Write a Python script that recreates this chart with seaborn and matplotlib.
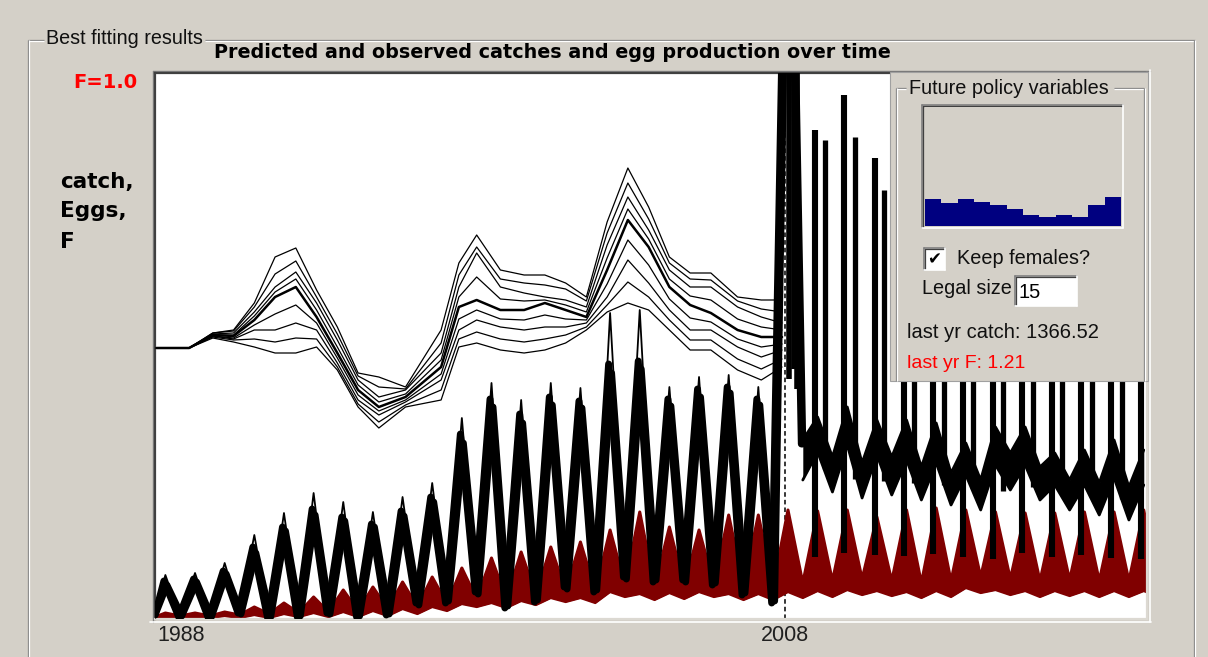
"""
Best fitting results screen: predicted and observed catches, egg production
and fishing mortality over time, with the future policy side panel.
"""

import numpy as np
import pandas as pd
import matplotlib
matplotlib.use("Agg")
import matplotlib.pyplot as plt
import matplotlib.transforms as mtransforms
from matplotlib.patches import Rectangle
import seaborn as sns

W, H = 1208, 657
GUI_GREY = "#d4d0c8"
EGG_RED = "#800000"
NAVY = "#000080"
GUI_FONT = "Liberation Sans"

# ---------------------------------------------------------------------------
# Data (relative units on a shared axis, 0 = floor of the plot)
# ---------------------------------------------------------------------------

# Catch before 2008, two overlapping runs: one peak and one trough per year
CATCH_YEARS = np.arange(1987, 2008)
CATCH_TIP = [44, 46, 56, 84, 106, 126, 117, 107, 122, 136, 201,
             236, 219, 236, 231, 306, 309, 232, 242, 244, 232]
CATCH_PEAK = [38, 40, 48, 72, 92, 110, 102, 95, 108, 122, 185,
              220, 205, 222, 218, 255, 258, 220, 230, 232, 220]
CATCH_PEAK2 = [34, 37, 45, 66, 88, 104, 98, 92, 103, 117, 176,
               212, 196, 214, 211, 246, 250, 213, 222, 226, 214]
CATCH_TROUGH = [2, 1, 6, 1, 2, 6, 2, 4, 16, 16, 27,
                11, 17, 32, 27, 42, 37, 39, 34, 24, 16]
CATCH_TROUGH2 = [3, 2, 5, 2, 3, 5, 3, 5, 14, 18, 25,
                 13, 19, 30, 29, 40, 39, 37, 36, 26, 18]
CATCH_START = 4
SPIKE_2008 = 900          # runs far off the top of the plot
SPIKE_2008_END = 175

# Catch projections after 2008: band of runs, trough (yr + 0.6), peak (yr + 1.1)
PROJ_YEARS = np.arange(2008, 2020)
PROJ_TOP_TROUGH = [179, 162, 156, 162, 152, 146, 139, 166, 152, 139, 136, 132]
PROJ_TOP_PEAK = [202, 212, 199, 199, 196, 176, 192, 192, 166, 169, 179, 169]
PROJ_BOT_TROUGH = [139, 127, 121, 124, 119, 114, 109, 129, 119, 109, 104, 99]
PROJ_BOT_PEAK = [167, 174, 164, 159, 156, 144, 154, 154, 134, 134, 141, 134]

# Projection spikes (narrow catch pulses)
SPIKE_A_T = [2009.02, 2010.0, 2011.04, 2012.0, 2013.0, 2014.0,
             2015.0, 2016.0, 2017.0, 2018.0, 2019.0, 2020.0]
SPIKE_A_LO = [62, 66, 64, 63, 65, 62, 60, 66, 62, 64, 61, 60]
SPIKE_A_HI = [489, 524, 461, 369, 349, 329, 319, 309, 299, 289, 279, 269]
SPIKE_B_T = [2009.35, 2010.36, 2011.34, 2012.35, 2013.35, 2014.35,
             2015.35, 2016.35, 2017.35, 2018.35, 2019.35]
SPIKE_B_LO = [150, 140, 138, 136, 134, 130, 128, 132, 126, 122, 120]
SPIKE_B_HI = [479, 482, 429, 319, 309, 299, 289, 279, 269, 259, 249]
COLUMN_2008_T = [2008.15, 2008.3, 2008.42]
COLUMN_2008_LO = [240, 250, 230]
COLUMN_2008_HI = [600, 600, 600]

# Egg production: upper and lower edge of the band, peak (yr + 0.1), trough (yr + 0.6)
EGG_YEARS = np.arange(1987, 2021)
EGG_TOP_PEAK = [6, 6, 7, 12, 16, 22, 29, 32, 37, 42, 51, 61, 67, 72, 77, 89, 107,
                92, 89, 104, 104, 109, 108, 109, 102, 109, 111, 109, 107, 106,
                106, 107, 107, 109]
EGG_TOP_TROUGH = [3, 3, 4, 5, 6, 7, 8, 10, 12, 15, 20, 20, 24, 28, 28, 34, 32,
                  33, 35, 33, 33, 36, 38, 40, 38, 36, 38, 42, 40, 38, 39, 38, 38, 38]
EGG_BOT_PEAK = [2, 2, 3, 4, 5, 6, 7, 8, 10, 12, 15, 16, 18, 21, 21, 27, 25,
                26, 27, 25, 25, 27, 28, 29, 28, 27, 28, 31, 29, 28, 28, 28, 28, 28]
EGG_BOT_TROUGH = [1, 1, 1, 1, 2, 2, 2, 3, 5, 8, 12, 11, 14, 17, 16, 22, 19, 20,
                  22, 19, 19, 21, 22, 24, 23, 21, 22, 26, 24, 22, 23, 22, 22, 22]

# Fishing mortality runs
F_YEARS = [1986.8, 1987.9, 1988.7, 1989.4, 1990.1, 1990.8, 1991.5, 1992.2,
           1992.9, 1993.6, 1994.3, 1995.2, 1996.4, 1997.0, 1997.6, 1998.4,
           1999.2, 1999.9, 2000.6, 2001.3, 2002.0, 2002.7, 2003.4, 2004.1,
           2004.8, 2005.5, 2006.4, 2007.2, 2007.9]
F_RUNS = {
    "top": [271, 271, 286, 289, 316, 362, 371, 329, 292, 246, 242, 232, 289, 356,
            384, 349, 344, 344, 336, 322, 397, 451, 412, 362, 346, 346, 322, 319, 319],
    "upper2": [271, 271, 286, 288, 312, 345, 358, 322, 285, 243, 232, 230, 276, 344,
               372, 340, 336, 334, 330, 318, 386, 436, 400, 356, 340, 339, 318, 310, 307],
    "upper": [271, 271, 285, 286, 307, 332, 347, 316, 279, 239, 222, 229, 266, 332,
              366, 332, 326, 322, 319, 312, 374, 422, 389, 349, 332, 332, 312, 302, 296],
    "mu": [271, 271, 284, 284, 303, 327, 340, 309, 272, 234, 217, 225, 259, 322,
           342, 320, 318, 319, 314, 307, 361, 410, 380, 340, 323, 319, 300, 292, 289],
    "mid": [271, 271, 284, 283, 299, 322, 332, 302, 266, 229, 212, 222, 252, 312,
            319, 309, 309, 316, 309, 302, 349, 399, 372, 332, 314, 306, 289, 282, 282],
    "ml": [271, 271, 283, 281, 294, 305, 314, 296, 261, 224, 208, 219, 245, 300,
           309, 300, 299, 304, 300, 299, 335, 379, 354, 320, 301, 297, 280, 272, 275],
    "lower": [271, 271, 283, 280, 289, 289, 296, 289, 256, 219, 204, 217, 239, 289,
              299, 292, 289, 292, 292, 296, 322, 359, 336, 309, 289, 289, 272, 262, 269],
    "lower2": [271, 271, 282, 279, 280, 277, 281, 280, 252, 215, 197, 214, 229, 280,
               287, 280, 277, 280, 284, 292, 314, 337, 322, 299, 279, 279, 260, 250, 260],
    "bottom": [271, 271, 281, 277, 272, 266, 266, 272, 249, 212, 191, 212, 219, 272,
               276, 269, 266, 269, 276, 289, 307, 316, 309, 289, 269, 269, 249, 239, 252],
}
F_HEAVY = "mid"

# Future policy panel: F multiplier per month
POLICY_MONTHS = list(range(1, 13))
POLICY_F = [0.45, 0.38, 0.45, 0.41, 0.35, 0.28, 0.19, 0.15, 0.19, 0.15, 0.35, 0.48]

X_TICKS = [1988, 2008]
X_LIMITS = (1986.75, 2020.21)
Y_LIMITS = (0, 546)


def zigzag(years, peaks, troughs, peak_off, trough_off):
    """Interleave typed peak/trough values on their time stamps."""
    years = np.asarray(years, dtype=float)
    if peak_off < trough_off:
        t = np.column_stack([years + peak_off, years + trough_off]).ravel()
        v = np.column_stack([peaks, troughs]).ravel()
    else:
        t = np.column_stack([years + trough_off, years + peak_off]).ravel()
        v = np.column_stack([troughs, peaks]).ravel()
    return t, v


def etched_h(ax, x0, x1, y):
    ax.plot([x0, x1], [y, y], color="#808080", lw=0.9, solid_capstyle="butt")
    ax.plot([x0, x1], [y + 1, y + 1], color="white", lw=0.9, solid_capstyle="butt")


def etched_v(ax, x, y0, y1):
    ax.plot([x, x], [y0, y1], color="#808080", lw=0.9, solid_capstyle="butt")
    ax.plot([x + 1, x + 1], [y0, y1], color="white", lw=0.9, solid_capstyle="butt")


def sunken_box(ax, x0, y0, x1, y1, face):
    ax.add_patch(Rectangle((x0, y0), x1 - x0, y1 - y0, facecolor=face,
                           edgecolor="none", zorder=1))
    ax.plot([x0, x1], [y0, y0], color="#808080", lw=1.2, zorder=2)
    ax.plot([x0, x0], [y0, y1], color="#808080", lw=1.2, zorder=2)
    ax.plot([x0 + 1, x1 - 1], [y0 + 1, y0 + 1], color="#404040", lw=0.9, zorder=2)
    ax.plot([x0 + 1, x0 + 1], [y0 + 1, y1 - 1], color="#404040", lw=0.9, zorder=2)
    ax.plot([x0, x1], [y1, y1], color="white", lw=1.2, zorder=2)
    ax.plot([x1, x1], [y0, y1], color="white", lw=1.2, zorder=2)


def line(ax, t, v, **kw):
    sns.lineplot(x=np.asarray(t, float), y=np.asarray(v, float), ax=ax,
                 estimator=None, sort=False, **kw)


def catch_run(peaks, troughs, peak_off, trough_off, spike_t):
    t, v = zigzag(CATCH_YEARS, peaks, troughs, peak_off, trough_off)
    t = np.concatenate([[X_LIMITS[0]], t, spike_t])
    v = np.concatenate([[CATCH_START], v, [SPIKE_2008, SPIKE_2008_END]])
    return t, v


sns.set_style("white")
plt.rcParams["font.family"] = ["DejaVu Sans"]

fig = plt.figure(figsize=(W / 100, H / 100), dpi=100)
fig.patch.set_facecolor(GUI_GREY)

# ---- window chrome (pixel coordinates) ------------------------------------
bg = fig.add_axes([0, 0, 1, 1], zorder=0)
bg.set_xlim(0, W)
bg.set_ylim(H, 0)
bg.axis("off")

etched_h(bg, 28, 44, 40)
etched_h(bg, 205, 1195, 40)
etched_v(bg, 28, 40, H)
etched_v(bg, 1194, 40, H)
bg.text(46, 38, "Best fitting results", ha="left", va="center",
        fontsize=14.2, family=GUI_FONT, color="#101010")
bg.text(552, 52, "Predicted and observed catches and egg production over time",
        ha="center", va="center", fontsize=13.8, fontweight="bold", color="black")
bg.text(137, 83, "F=1.0", ha="right", va="center", fontsize=14,
        fontweight="bold", color="#ff0000")
for label, y in zip(["catch,", "Eggs,", "F"], [188, 217, 248]):
    bg.text(60, y, label, ha="left", va="baseline", fontsize=15.5,
            fontweight="bold", color="black")

# sunken frame of the plot
bg.plot([152.5, 152.5], [70.5, 622], color="#808080", lw=1.0)
bg.plot([152.5, 1150], [70.5, 70.5], color="#808080", lw=1.0)
bg.plot([150, 1150.5], [621.8, 621.8], color="white", lw=1.2)
bg.plot([1150.3, 1150.3], [70, 622], color="white", lw=1.2)

# ---- main plot -------------------------------------------------------------
ax = fig.add_axes([155 / W, (H - 619) / H, (1147 - 155) / W, (619 - 73) / H], zorder=2)
ax.set_facecolor("white")
ax.set_xlim(*X_LIMITS)
ax.set_ylim(*Y_LIMITS)
ax.set_xticks([])
ax.set_yticks([])
for side in ["top", "left"]:
    ax.spines[side].set_color("#404040")
    ax.spines[side].set_linewidth(1.6)
for side in ["bottom", "right"]:
    ax.spines[side].set_color("#dcd9d2")
    ax.spines[side].set_linewidth(1.6)

# 2008 marker
ax.axvline(2008, color="black", lw=1.1, ls=(0, (3, 2)), zorder=1)

# egg production band
egg_t, egg_top = zigzag(EGG_YEARS, EGG_TOP_PEAK, EGG_TOP_TROUGH, 0.1, 0.6)
_, egg_bot = zigzag(EGG_YEARS, EGG_BOT_PEAK, EGG_BOT_TROUGH, 0.1, 0.6)
egg_t = np.concatenate([[X_LIMITS[0]], egg_t])
egg_top = np.concatenate([[2], egg_top])
egg_bot = np.concatenate([[0], egg_bot])
ax.fill_between(egg_t, egg_bot, egg_top, color=EGG_RED, lw=0, zorder=2)
line(ax, egg_t, egg_top, color=EGG_RED, linewidth=2.2, zorder=2)
line(ax, egg_t, egg_bot, color=EGG_RED, linewidth=1.6, zorder=2)

# catch up to 2008 and the 2008 jump (two overlapping runs plus thin tips)
for peaks, troughs, p_off, t_off, sp_t, lw in [
    (CATCH_PEAK, CATCH_TROUGH, 0.05, 0.55, [2008.1, 2008.55], 5),
    (CATCH_PEAK2, CATCH_TROUGH2, 0.15, 0.65, [2008.15, 2008.6], 5),
    (CATCH_TIP, CATCH_TROUGH, 0.1, 0.6, [2008.12, 2008.57], 1.3),
]:
    t, v = catch_run(peaks, troughs, p_off, t_off, sp_t)
    line(ax, t, v, color="black", linewidth=lw, zorder=3)

# projections after 2008
p_t, p_top = zigzag(PROJ_YEARS, PROJ_TOP_PEAK, PROJ_TOP_TROUGH, 1.1, 0.6)
_, p_bot = zigzag(PROJ_YEARS, PROJ_BOT_PEAK, PROJ_BOT_TROUGH, 1.1, 0.6)
ax.fill_between(p_t, p_bot, p_top, color="black", lw=0, zorder=3)
line(ax, p_t, p_top, color="black", linewidth=2.0, zorder=3)
line(ax, p_t, p_bot, color="black", linewidth=2.0, zorder=3)
ax.vlines(SPIKE_A_T, SPIKE_A_LO, SPIKE_A_HI, color="black", lw=4.4, zorder=3)
ax.vlines(SPIKE_B_T, SPIKE_B_LO, SPIKE_B_HI, color="black", lw=3.8, zorder=3)
ax.vlines(COLUMN_2008_T, COLUMN_2008_LO, COLUMN_2008_HI, color="black", lw=4, zorder=3)

# fishing mortality runs
f_long = pd.DataFrame(
    [(run, t, v) for run, vals in F_RUNS.items() for t, v in zip(F_YEARS, vals)],
    columns=["run", "year", "level"],
)
for run, grp in f_long.groupby("run", sort=False):
    line(ax, grp["year"], grp["level"], color="black",
         linewidth=1.8 if run == F_HEAVY else 0.9, zorder=4)

# x labels below the frame
label_tf = ax.get_xaxis_transform()
for yr in X_TICKS:
    dx = -10.5 if yr == X_TICKS[0] else 0.0
    tf = label_tf + mtransforms.ScaledTranslation(dx / 100, -6 / 100, fig.dpi_scale_trans)
    ax.text(yr, 0, str(yr), transform=tf, ha="center", va="top",
            fontsize=15.5, family=GUI_FONT, color="#202020")

# ---- future policy panel ---------------------------------------------------
ov = fig.add_axes([0, 0, 1, 1], zorder=5)
ov.set_xlim(0, W)
ov.set_ylim(H, 0)
ov.axis("off")
ov.add_patch(Rectangle((890, 72), 258, 309, facecolor=GUI_GREY,
                       edgecolor="#a0a0a0", lw=0.8, zorder=0))
etched_h(ov, 896, 906, 88)
etched_h(ov, 1114, 1144, 88)
etched_v(ov, 896, 88, 381)
etched_v(ov, 1144, 88, 381)
ov.text(909, 88, "Future policy variables", ha="left", va="center",
        fontsize=14.3, family=GUI_FONT, color="#101010")

sunken_box(ov, 922, 105, 1123, 228, GUI_GREY)

sunken_box(ov, 924, 248, 945, 270, "white")
ov.text(934.5, 259.5, "\u2714", ha="center", va="center", fontsize=12,
        color="black", zorder=3)
ov.text(957, 259, "Keep females?", ha="left", va="center",
        fontsize=14.3, family=GUI_FONT, color="#101010")
ov.text(922, 289, "Legal size", ha="left", va="center",
        fontsize=14.3, family=GUI_FONT, color="#101010")
sunken_box(ov, 1015, 276, 1077, 306, "white")
ov.text(1019, 292, "15", ha="left", va="center", fontsize=14.5,
        family=GUI_FONT, color="black", zorder=3)
ov.text(907, 333, "last yr catch: 1366.52", ha="left", va="center",
        fontsize=14.5, family=GUI_FONT, color="#101010")
ov.text(907, 364, "last yr F: 1.21", ha="left", va="center",
        fontsize=14.0, family=GUI_FONT, color="#ff0000")

mini = fig.add_axes([925 / W, (H - 226) / H, (1121 - 925) / W, (226 - 107) / H], zorder=6)
mini.set_facecolor(GUI_GREY)
sns.barplot(x=POLICY_MONTHS, y=POLICY_F, ax=mini, color=NAVY, saturation=1,
            width=1.0, linewidth=0)
mini.set_xlim(-0.5, 11.5)
mini.set_ylim(0, 2.0)
mini.set_xticks([])
mini.set_yticks([])
mini.set_xlabel("")
mini.set_ylabel("")
for s in mini.spines.values():
    s.set_visible(False)

fig.savefig("out.png", dpi=100, facecolor=fig.get_facecolor())
